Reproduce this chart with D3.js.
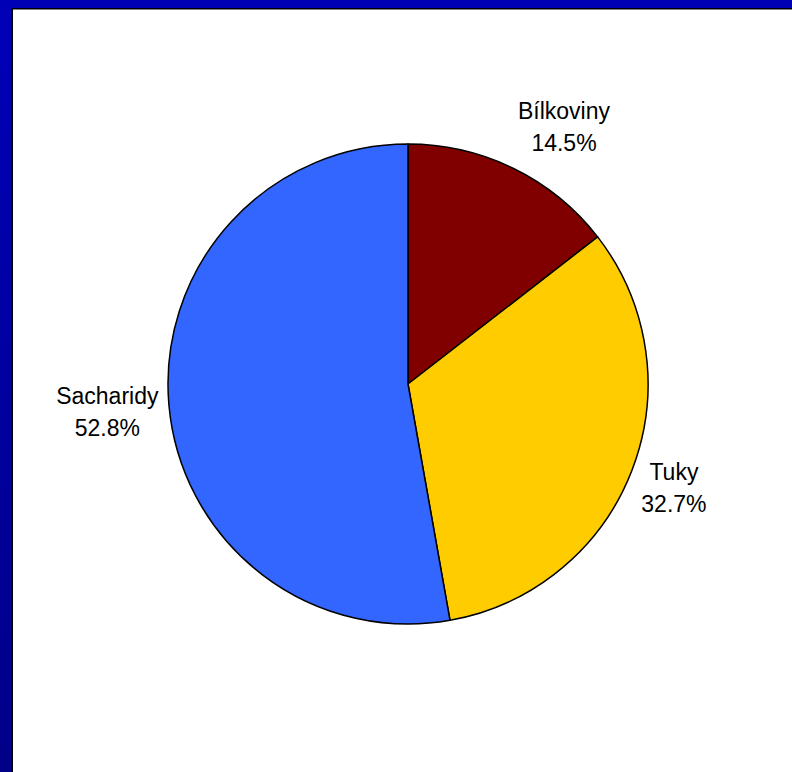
<!DOCTYPE html>
<html>
<head>
<meta charset="utf-8">
<script src="https://cdn.jsdelivr.net/npm/d3@7"></script>
<style>
  html, body { margin: 0; padding: 0; background: #fff; }
  svg { display: block; }
</style>
</head>
<body>
<div id="chart"></div>
<script>
// koláč: složení energie - bílkoviny / tuky / sacharidy
const categories = ["Bílkoviny", "Tuky", "Sacharidy"];
const values = [14.5, 32.7, 52.8];
const colors = ["#800000", "#ffcc00", "#3366ff"];

const W = 792, H = 772;
const cx = 408, cy = 384, R = 240;
const labelGap = 250; // vzdálenost kotvy popisku od středu

const svg = d3.select("#chart").append("svg")
  .attr("width", W).attr("height", H)
  .attr("font-family", "'Liberation Sans', Arial, sans-serif");

// rámeček (modrý okraj se stínem)
const defs = svg.append("defs");
const grad = defs.append("linearGradient").attr("id", "frame")
  .attr("x1", 0).attr("y1", 0).attr("x2", 0).attr("y2", 1);
grad.append("stop").attr("offset", 0).attr("stop-color", "#0000b8");
grad.append("stop").attr("offset", 1).attr("stop-color", "#000088");

svg.append("rect").attr("width", W).attr("height", H).attr("fill", "#fff");
svg.append("rect").attr("x", 0).attr("y", 0).attr("width", W).attr("height", 8).attr("fill", "#0000b4");
svg.append("rect").attr("x", 0).attr("y", 0).attr("width", 12).attr("height", H).attr("fill", "url(#frame)");
svg.append("rect").attr("x", 12).attr("y", 8).attr("width", W - 12).attr("height", 1.5).attr("fill", "#000");
svg.append("rect").attr("x", 11).attr("y", 8).attr("width", 2).attr("height", H - 8).attr("fill", "#000");

const pie = d3.pie().sort(null).value(d => d.v);
const data = categories.map((c, i) => ({ c, v: values[i], col: colors[i] }));
const arcs = pie(data);
const arc = d3.arc().innerRadius(0).outerRadius(R);

const g = svg.append("g").attr("transform", `translate(${cx},${cy})`);
g.selectAll("path").data(arcs).join("path")
  .attr("d", arc)
  .attr("fill", d => d.data.col)
  .attr("stroke", "#000")
  .attr("stroke-width", 1.5)
  .attr("stroke-linejoin", "round");

const fmt = d3.format(".1f");
const labels = g.selectAll("g.lab").data(arcs).join("g").attr("class", "lab");
labels.each(function (d) {
  const el = d3.select(this);
  const t = el.append("text").attr("text-anchor", "middle")
    .attr("font-size", 23).attr("fill", "#000");
  t.append("tspan").attr("x", 0).attr("y", -6).text(d.data.c);
  t.append("tspan").attr("x", 0).attr("y", 26).text(fmt(d.data.v) + "%");
  const bb = t.node().getBBox();
  const a = (d.startAngle + d.endAngle) / 2;
  const s = Math.sin(a), c = -Math.cos(a);
  const m = Math.max(Math.abs(s), Math.abs(c));
  const ax = labelGap * s, ay = labelGap * c;
  // popisek se odsune od koláče: vodorovně skoro celou šířkou, svisle podle úhlu
  const ox = (bb.width / 2) * Math.sign(s) * Math.min(1, 2.3 * Math.abs(s));
  const oy = (bb.height / 2) * c / m;
  const bcx = bb.x + bb.width / 2, bcy = bb.y + bb.height / 2;
  el.attr("transform", `translate(${ax + ox - bcx},${ay + oy - bcy + (c < -0.5 ? -3 : 3)})`);
});
</script>
</body>
</html>
